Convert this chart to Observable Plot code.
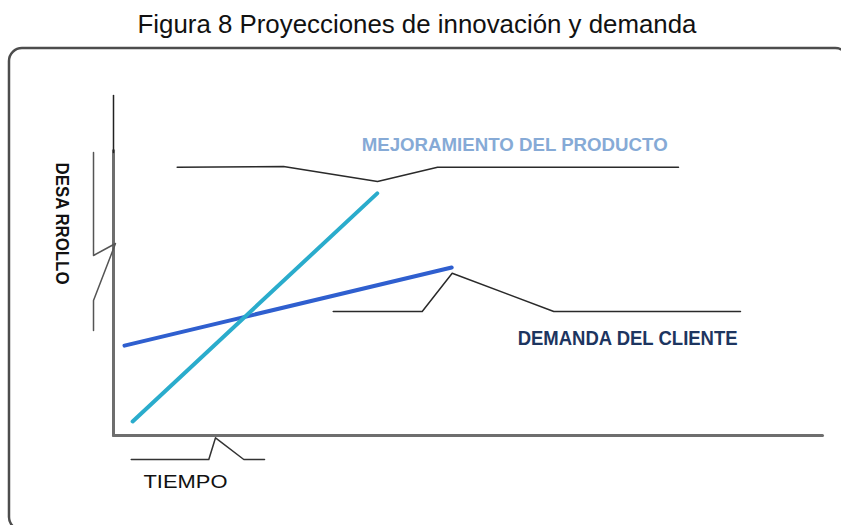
<!DOCTYPE html>
<html>
<head>
<meta charset="utf-8">
<script src="https://cdn.jsdelivr.net/npm/d3@7"></script>
<script src="https://cdn.jsdelivr.net/npm/@observablehq/plot@0.6"></script>
<style>
  html, body { margin: 0; padding: 0; background: #fff; }
  #chart svg { display: block; }
</style>
</head>
<body>
<div id="chart"></div>
<script>
// ---- Data (units: TIEMPO 0-100 on x, DESARROLLO 0-100 on y) ----
const titleText = "Figura 8 Proyecciones de innovación y demanda";

// Series
const productLabel = "MEJORAMIENTO DEL PRODUCTO";
const productTime = [2.7, 37.2];
const productDev  = [4.1, 70.6];

const demandLabel = "DEMANDA DEL CLIENTE";
const demandTime = [1.55, 47.7];
const demandDev  = [26.2, 49.0];

// Axis labels
const xAxisLabel = "TIEMPO";
const yAxisLabel = "DESA RROLLO";

// Axes (diagram axes)
const yAxisDark  = {x: [0, 0], y: [82.5, 99.1]};
const yAxisGray  = {x: [0, 0], y: [0, 83.1]};
const xAxisLine  = {x: [0, 100], y: [0, 0]};

// Callout brackets
const productBracketX = [8.98, 23.98, 37.24, 45.70, 79.69];
const productBracketY = [78.22, 78.43, 74.05, 78.22, 78.22];
const demandBracketX  = [30.99, 43.54, 47.77, 62.10, 88.43];
const demandBracketY  = [36.15, 36.15, 47.32, 36.15, 36.15];
const timeBracketX    = [2.50, 13.44, 14.39, 18.38, 21.30];
const timeBracketY    = [-7.0, -7.0, -0.67, -7.0, -7.0];
const devBracketX     = [-2.82, -2.82, 0.28, -2.82, -2.82];
const devBracketY     = [82.51, 52.48, 55.98, 39.36, 30.61];

// Label anchors
const productLabelPos = {x: 35.0, y: 84.5};
const demandLabelPos  = {x: 57.0, y: 28.3};
const xLabelPos       = {x: 4.23, y: -13.7};
const yLabelPos       = {x: -7.33, y: 61.8};

// Frame (rounded border)
const frameBox = {x1: -14.67, x2: 103.7, y1: -27.7, y2: 112.8};

// ---- Build tables ----
const pts = (xs, ys) => xs.map((x, i) => ({x, y: ys[i]}));

const textFit = {
  [titleText]: 559,
  [productLabel]: 306,
  [demandLabel]: 220,
  [yAxisLabel]: 122,
  [xAxisLabel]: 84
};

const chart = Plot.plot({
  width: 841,
  height: 525,
  margin: 0,
  x: {domain: [0, 100], range: [113, 822], axis: null},
  y: {domain: [0, 100], range: [435, 92], axis: null},
  style: {background: "#fff", fontFamily: "'Liberation Sans', Arial, sans-serif"},
  marks: [
    Plot.rect([frameBox], {x1: "x1", x2: "x2", y1: "y1", y2: "y2", rx: 13, fill: "none", stroke: "#4d4d4d", strokeWidth: 2.5}),
    Plot.text([titleText], {frameAnchor: "top", dx: -4, dy: 14, text: d => d, fontSize: 26, fill: "#111"}),
    // axes
    Plot.line(pts(yAxisGray.x, yAxisGray.y), {x: "x", y: "y", stroke: "#6e6e6e", strokeWidth: 3}),
    Plot.line(pts(xAxisLine.x, xAxisLine.y), {x: "x", y: "y", stroke: "#6e6e6e", strokeWidth: 3}),
    Plot.line(pts(yAxisDark.x, yAxisDark.y), {x: "x", y: "y", stroke: "#222", strokeWidth: 1.5}),
    // brackets
    Plot.line(pts(productBracketX, productBracketY), {x: "x", y: "y", stroke: "#2a2a2a", strokeWidth: 1.5}),
    Plot.line(pts(demandBracketX, demandBracketY), {x: "x", y: "y", stroke: "#2a2a2a", strokeWidth: 1.5}),
    Plot.line(pts(timeBracketX, timeBracketY), {x: "x", y: "y", stroke: "#333", strokeWidth: 1.5}),
    Plot.line(pts(devBracketX, devBracketY), {x: "x", y: "y", stroke: "#555", strokeWidth: 1.5}),
    // series
    Plot.line(pts(demandTime, demandDev), {x: "x", y: "y", stroke: "#2f5fcf", strokeWidth: 4}),
    Plot.line(pts(productTime, productDev), {x: "x", y: "y", stroke: "#2aaccc", strokeWidth: 4}),
    // labels
    Plot.text([productLabel], {x: () => productLabelPos.x, y: () => productLabelPos.y, text: d => d, textAnchor: "start", fontSize: 18, fontWeight: "bold", fill: "#86aad6"}),
    Plot.text([demandLabel], {x: () => demandLabelPos.x, y: () => demandLabelPos.y, text: d => d, textAnchor: "start", fontSize: 20, fontWeight: "bold", fill: "#1d3560"}),
    Plot.text([xAxisLabel], {x: () => xLabelPos.x, y: () => xLabelPos.y, text: d => d, textAnchor: "start", fontSize: 18, fill: "#111"}),
    Plot.text([yAxisLabel], {x: () => yLabelPos.x, y: () => yLabelPos.y, text: d => d, rotate: 90, fontSize: 18, fontWeight: "bold", fill: "#111"})
  ]
});

chart.querySelectorAll("text").forEach(t => {
  const w = textFit[t.textContent];
  if (w) {
    t.setAttribute("textLength", w);
    t.setAttribute("lengthAdjust", "spacingAndGlyphs");
  }
});

document.getElementById("chart").appendChild(chart);
</script>
</body>
</html>
